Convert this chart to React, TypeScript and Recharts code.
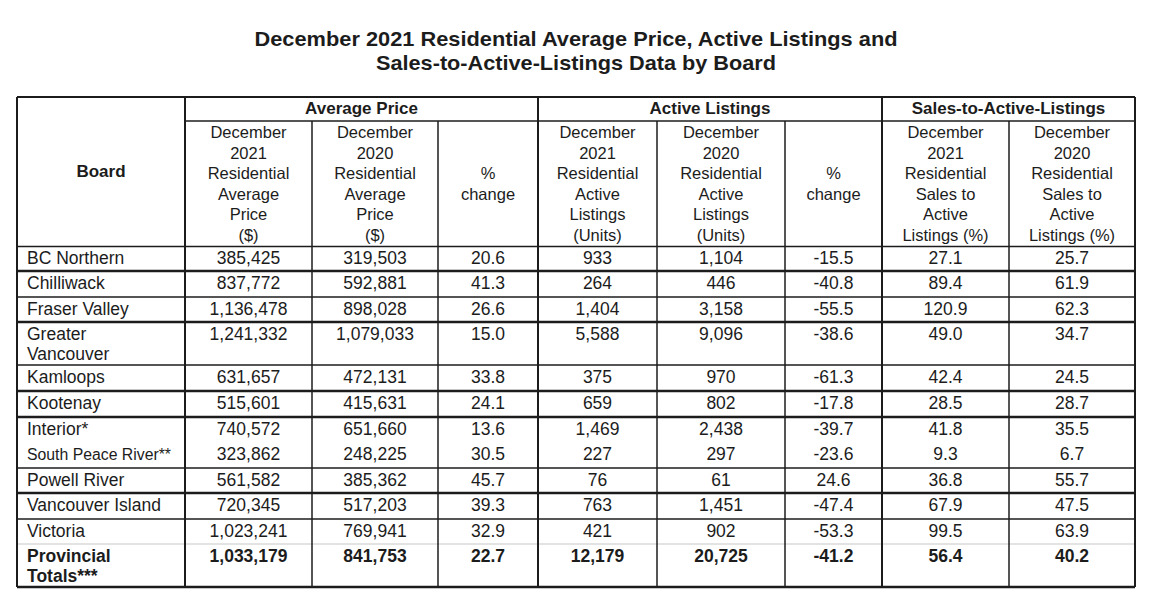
import React from "react";
import { ComposedChart, Customized } from "recharts";

const TITLE_LINES = [
  "December 2021 Residential Average Price, Active Listings and",
  "Sales-to-Active-Listings Data by Board",
];
const TITLE_WIDTHS = [643, 400];
const GROUP_TITLES = ["Average Price", "Active Listings", "Sales-to-Active-Listings"];
const BOARD_HEADER = "Board";
const SUB_HEADERS: string[][] = [
  ["December", "2021", "Residential", "Average", "Price", "($)"],
  ["December", "2020", "Residential", "Average", "Price", "($)"],
  ["", "", "%", "change"],
  ["December", "2021", "Residential", "Active", "Listings", "(Units)"],
  ["December", "2020", "Residential", "Active", "Listings", "(Units)"],
  ["", "", "%", "change"],
  ["December", "2021", "Residential", "Sales to", "Active", "Listings (%)"],
  ["December", "2020", "Residential", "Sales to", "Active", "Listings (%)"],
];

const boards: string[][] = [
  ["BC Northern"],
  ["Chilliwack"],
  ["Fraser Valley"],
  ["Greater", "Vancouver"],
  ["Kamloops"],
  ["Kootenay"],
  ["Interior*"],
  ["South Peace River**"],
  ["Powell River"],
  ["Vancouver Island"],
  ["Victoria"],
  ["Provincial", "Totals***"],
];
const avgPrice2021 = [385425, 837772, 1136478, 1241332, 631657, 515601, 740572, 323862, 561582, 720345, 1023241, 1033179];
const avgPrice2020 = [319503, 592881, 898028, 1079033, 472131, 415631, 651660, 248225, 385362, 517203, 769941, 841753];
const avgPriceChange = [20.6, 41.3, 26.6, 15.0, 33.8, 24.1, 13.6, 30.5, 45.7, 39.3, 32.9, 22.7];
const active2021 = [933, 264, 1404, 5588, 375, 659, 1469, 227, 76, 763, 421, 12179];
const active2020 = [1104, 446, 3158, 9096, 970, 802, 2438, 297, 61, 1451, 902, 20725];
const activeChange = [-15.5, -40.8, -55.5, -38.6, -61.3, -17.8, -39.7, -23.6, 24.6, -47.4, -53.3, -41.2];
const salesRatio2021 = [27.1, 89.4, 120.9, 49.0, 42.4, 28.5, 41.8, 9.3, 36.8, 67.9, 99.5, 56.4];
const salesRatio2020 = [25.7, 61.9, 62.3, 34.7, 24.5, 28.7, 35.5, 6.7, 55.7, 47.5, 63.9, 40.2];

const fmtInt = (v: number) => v.toLocaleString("en-US");
const fmtPct = (v: number) => v.toFixed(1);

const rows = boards.map((b, i) => ({
  board: b,
  cells: [
    fmtInt(avgPrice2021[i]),
    fmtInt(avgPrice2020[i]),
    fmtPct(avgPriceChange[i]),
    fmtInt(active2021[i]),
    fmtInt(active2020[i]),
    fmtPct(activeChange[i]),
    fmtPct(salesRatio2021[i]),
    fmtPct(salesRatio2020[i]),
  ],
}));

// layout
const COL_EDGES = [17, 185, 312, 438, 538, 657, 785, 882, 1009, 1135];
const TABLE_TOP = 97;
const GROUP_LINE = 121;
const HEADER_BOTTOM = 246.5;
const ROW_BOTTOMS = [271, 297, 322, 365, 391, 417, 442, 468, 493, 519, 544, 587];
// style of line under each row: 0 none, 1 thin, 2 thick, 3 light
const ROW_LINE_STYLE = [2, 1, 2, 1, 2, 2, 0, 1, 2, 1, 3, 2];

const FONT = "'Liberation Sans', Arial, Helvetica, sans-serif";
const INK = "#1c1c1c";

const TableLayer = () => {
  const els: React.ReactNode[] = [];
  const left = COL_EDGES[0];
  const right = COL_EDGES[COL_EDGES.length - 1];
  const bottom = ROW_BOTTOMS[ROW_BOTTOMS.length - 1];

  // title
  TITLE_LINES.forEach((t, i) => {
    els.push(
      <text
        key={"title" + i}
        x={576}
        y={45.5 + i * 24.5}
        textAnchor="middle"
        fontFamily={FONT}
        fontWeight="bold"
        fontSize={20.5}
        fill={INK}
        textLength={TITLE_WIDTHS[i]}
        lengthAdjust="spacingAndGlyphs"
      >
        {t}
      </text>
    );
  });

  // horizontal lines
  els.push(<line key="top" x1={left} x2={right} y1={TABLE_TOP} y2={TABLE_TOP} stroke={INK} strokeWidth={2.2} />);
  els.push(<line key="grp" x1={COL_EDGES[1]} x2={right} y1={GROUP_LINE} y2={GROUP_LINE} stroke={INK} strokeWidth={1.6} />);
  els.push(<line key="hb" x1={left} x2={right} y1={HEADER_BOTTOM} y2={HEADER_BOTTOM} stroke={INK} strokeWidth={1.6} />);
  ROW_BOTTOMS.forEach((y, i) => {
    const s = ROW_LINE_STYLE[i];
    if (s === 0) return;
    const stroke = s === 3 ? "#c8c8c8" : INK;
    const w = s === 2 ? 2.6 : s === 3 ? 1.2 : 1.4;
    els.push(<line key={"rl" + i} x1={left} x2={right} y1={y} y2={y} stroke={stroke} strokeWidth={w} />);
  });

  // vertical lines
  COL_EDGES.forEach((x, i) => {
    const major = i === 0 || i === 1 || i === 4 || i === 7 || i === COL_EDGES.length - 1;
    const y1 = major ? TABLE_TOP : GROUP_LINE;
    els.push(
      <line key={"vl" + i} x1={x} x2={x} y1={y1} y2={bottom} stroke={INK} strokeWidth={major ? 2 : 1.5} />
    );
  });

  // group titles
  const groupSpans = [
    [COL_EDGES[1], COL_EDGES[4]],
    [COL_EDGES[4], COL_EDGES[7]],
    [COL_EDGES[7], COL_EDGES[9]],
  ];
  GROUP_TITLES.forEach((g, i) => {
    els.push(
      <text key={"g" + i} x={(groupSpans[i][0] + groupSpans[i][1]) / 2} y={114} textAnchor="middle" fontFamily={FONT} fontWeight="bold" fontSize={17} fill={INK}>
        {g}
      </text>
    );
  });

  // board header
  els.push(
    <text key="boardh" x={(COL_EDGES[0] + COL_EDGES[1]) / 2} y={177} textAnchor="middle" fontFamily={FONT} fontWeight="bold" fontSize={17} fill={INK}>
      {BOARD_HEADER}
    </text>
  );

  // sub headers
  SUB_HEADERS.forEach((lines, c) => {
    const cx = (COL_EDGES[c + 1] + COL_EDGES[c + 2]) / 2;
    lines.forEach((ln, k) => {
      if (!ln) return;
      els.push(
        <text key={"sh" + c + "_" + k} x={cx} y={138 + k * 20.5} textAnchor="middle" fontFamily={FONT} fontSize={16.5} fill={INK}>
          {ln}
        </text>
      );
    });
  });

  // data rows
  rows.forEach((r, i) => {
    const top = i === 0 ? HEADER_BOTTOM : ROW_BOTTOMS[i - 1];
    const base = top + 17.8;
    const isTotal = i === rows.length - 1;
    const small = r.board[0].startsWith("South Peace");
    r.board.forEach((ln, k) => {
      els.push(
        <text key={"b" + i + "_" + k} x={27} y={base + k * 20} fontFamily={FONT} fontSize={small ? 15.8 : 17.5} fontWeight={isTotal ? "bold" : "normal"} fill={INK}>
          {ln}
        </text>
      );
    });
    r.cells.forEach((v, c) => {
      const cx = (COL_EDGES[c + 1] + COL_EDGES[c + 2]) / 2;
      els.push(
        <text key={"c" + i + "_" + c} x={cx} y={base} textAnchor="middle" fontFamily={FONT} fontSize={17.5} fontWeight={isTotal ? "bold" : "normal"} fill={INK}>
          {v}
        </text>
      );
    });
  });

  return <g>{els}</g>;
};

export default function App() {
  return (
    <div style={{ position: "absolute", left: 0, top: 0, width: 1152, height: 598, background: "#fff" }}>
      <ComposedChart width={1152} height={598} data={rows} margin={{ top: 0, right: 0, bottom: 0, left: 0 }}>
        <Customized component={TableLayer} />
      </ComposedChart>
    </div>
  );
}
